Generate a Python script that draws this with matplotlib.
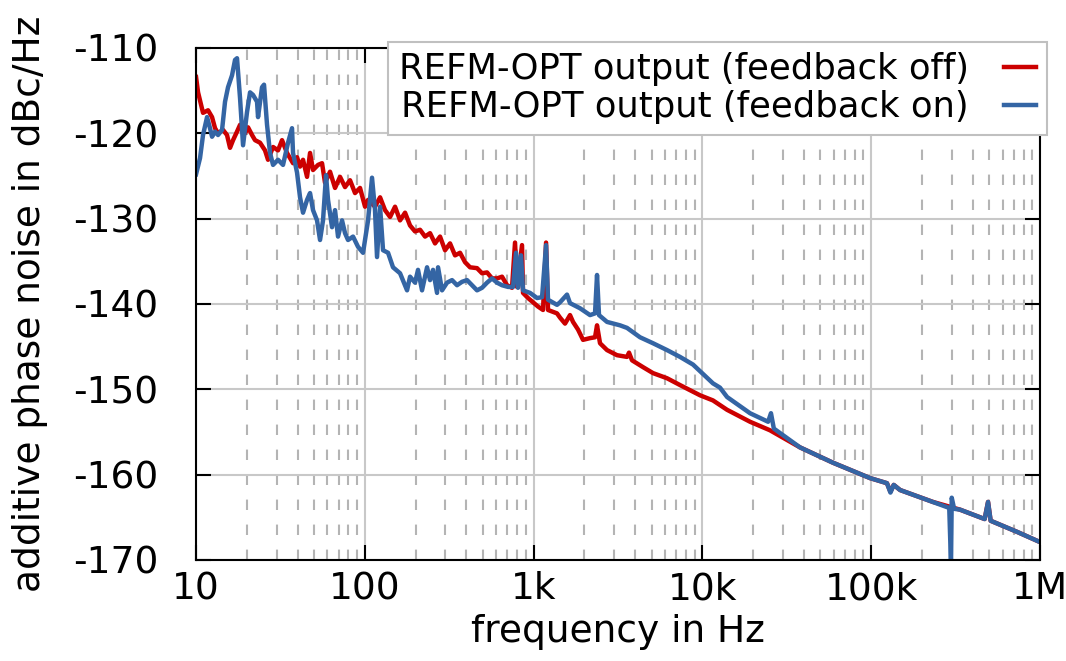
import matplotlib
matplotlib.use("Agg")
import matplotlib.pyplot as plt
from matplotlib.ticker import FixedLocator, LogLocator, NullFormatter

plt.rcParams['font.family'] = ['DejaVu Sans']
plt.rcParams['axes.unicode_minus'] = False

# feedback off (red)
off_f = [10, 10.28, 11.0, 11.78, 12.44, 12.96, 13.5, 14.45, 15.26, 15.9, 16.57, 17.49, 18.23,
         19.51, 20.33, 21.47, 22.36, 23.94, 25.63, 26.7, 28.59, 30.6, 32.32, 34.6, 37.55, 39.66,
         41.32, 43.04, 45.46, 47.36, 49.33, 52.82, 55.78, 58.11, 62.21, 66.6, 71.3, 76.33,
         81.72, 87.49, 93.67, 100.3, 104.5, 114.9, 123.1, 131.7, 141.1, 151.0, 161.7, 173.1,
         185.3, 198.4, 212.4, 227.4, 243.4, 260.6, 279.0, 298.7, 319.7, 342.3, 366.5, 392.4,
         420.1, 462.1, 494.8, 529.7, 567.0, 607.1, 649.9, 695.8, 744.9, 776, 797.4, 853.7,
         865.4, 926.5, 992, 1062, 1137, 1185, 1217, 1376, 1434, 1535, 1643, 1712, 1833, 1962,
         2159, 2311, 2375, 2474, 2722, 3120, 3576, 3674, 3828, 4448, 5098, 6171, 7368, 8446,
         9685, 11550, 14000, 19150, 25140, 37840, 59370, 98400, 124000, 130000, 136000,
         148300, 232500, 335900, 470000, 492300, 510000, 731000, 1000000]
off_db = [-113.4, -115.2, -117.6, -117.3, -118.1, -119.4, -120.0, -119.6, -120.2, -121.7,
          -120.8, -119.8, -119.0, -120.0, -119.3, -120.2, -120.8, -121.1, -122.0, -123.1,
          -121.6, -122.0, -120.8, -122.3, -123.5, -122.8, -123.9, -123.1, -125.1, -122.3,
          -124.3, -123.7, -123.5, -125.8, -124.5, -126.4, -125.1, -126.3, -125.5, -127.0,
          -126.4, -128.6, -127.8, -128.6, -127.5, -129.0, -129.8, -128.6, -130.2, -129.3,
          -130.8, -131.5, -131.3, -132.1, -131.7, -132.9, -132.1, -133.7, -132.9, -134.3,
          -134.0, -135.1, -135.7, -135.8, -136.4, -136.3, -137.0, -137.0, -136.8, -137.8,
          -138.1, -132.8, -138.0, -133.1, -138.7, -139.3, -139.8, -140.3, -140.7, -132.8,
          -140.7, -141.1, -141.6, -142.3, -141.3, -142.1, -143.0, -144.2, -144.0, -143.9,
          -142.5, -144.6, -145.4, -146.0, -146.2, -145.7, -146.6, -147.4, -148.1, -148.7,
          -149.5, -150.1, -150.7, -151.3, -152.4, -153.8, -154.8, -156.8, -158.6, -160.4,
          -161.0, -162.0, -161.2, -161.8, -163.2, -164.1, -165.2, -163.2, -165.4, -166.7,
          -167.9]

# feedback on (blue)
on_f = [10, 10.56, 11.0, 11.62, 12.1, 12.44, 12.96, 13.5, 14.26, 14.85, 15.47, 16.34, 17.02,
        17.49, 18.23, 18.99, 20.05, 20.89, 21.76, 22.98, 23.3, 24.6, 25.28, 26.34, 27.44,
        28.59, 30.6, 32.76, 35.08, 37.04, 37.55, 39.66, 41.32, 43.04, 45.46, 47.36, 49.33,
        52.1, 54.28, 56.54, 58.9, 60.53, 63.93, 66.6, 69.38, 73.27, 76.33, 79.52, 85.14,
        91.15, 97.58, 104.5, 110.3, 114.9, 118.1, 123.1, 128.2, 137.3, 146.9, 161.7, 177.9,
        185.3, 198.4, 206.6, 218.2, 233.7, 243.4, 253.6, 267.8, 271.5, 286.7, 306.9, 328.6,
        351.8, 376.6, 403.2, 431.7, 462.1, 494.8, 529.7, 567.0, 607.1, 649.9, 705.3, 755.1,
        786.6, 808.4, 842.1, 865.4, 952.2, 1048, 1122, 1185, 1217, 1376, 1434, 1577, 1643,
        1883, 2159, 2311, 2375, 2440, 2722, 3250, 3576, 4270, 5098, 6171, 7368, 8799, 9948,
        11549, 12706, 14000, 19150, 24500, 25480, 26500, 37840, 59370, 98400, 124000,
        130000, 136000, 148300, 232500, 290000, 297000, 300000, 310000, 335900, 470000,
        492300, 510000, 731000, 1000000]
on_db = [-124.8, -122.9, -120.2, -118.1, -119.4, -120.4, -119.8, -120.2, -119.6, -116.3,
         -114.6, -113.2, -111.4, -111.2, -115.9, -121.4, -117.5, -115.2, -115.5, -116.3,
         -118.1, -114.6, -114.3, -119.0, -122.3, -123.7, -123.1, -123.7, -121.1, -119.4,
         -122.3, -124.6, -127.5, -129.3, -127.8, -127.0, -129.0, -130.2, -132.5, -130.2,
         -124.9, -127.8, -131.0, -129.0, -132.1, -130.2, -131.7, -132.5, -132.1, -133.3,
         -134.0, -130.2, -125.2, -129.0, -134.5, -128.6, -133.7, -134.0, -135.7, -136.4,
         -138.4, -136.8, -137.5, -136.0, -138.4, -135.7, -137.2, -136.0, -138.7, -135.7,
         -138.4, -137.5, -137.2, -137.8, -137.4, -137.2, -137.8, -138.4, -138.1, -137.5,
         -137.0, -137.5, -137.8, -138.0, -138.0, -134.0, -138.1, -134.3, -138.4, -138.7,
         -139.3, -139.2, -133.1, -139.5, -140.1, -139.8, -138.9, -139.9, -140.5, -141.3,
         -141.1, -136.6, -141.3, -142.1, -142.5, -142.8, -143.9, -144.6, -145.4, -146.2,
         -147.1, -148.1, -149.3, -149.8, -150.9, -152.8, -153.8, -152.8, -154.6, -156.8,
         -158.6, -160.4, -161.0, -162.1, -161.2, -161.8, -163.2, -163.9, -170.5, -162.7,
         -164.0, -164.1, -165.2, -163.2, -165.4, -166.7, -167.9]

xticks = [10, 100, 1e3, 1e4, 1e5, 1e6]
xticklabels = ['10', '100', '1k', '10k', '100k', '1M']
yticks = [-170, -160, -150, -140, -130, -120, -110]

fig = plt.figure(figsize=(10.66, 6.61), dpi=100)
ax = fig.add_axes([0.1839, 0.1528, 0.7917, 0.7746])

ax.plot(off_f, off_db, color='#cc0000', lw=3.2, label='REFM-OPT output (feedback off)')
ax.plot(on_f, on_db, color='#3465a4', lw=3.2, label='REFM-OPT output (feedback on)')

ax.set_xscale('log')
ax.set_xlim(10, 1e6)
ax.set_ylim(-170, -110)
ax.xaxis.set_major_locator(FixedLocator(xticks))
ax.set_xticklabels(xticklabels)
ax.xaxis.set_minor_locator(LogLocator(base=10, subs=range(2, 10)))
ax.xaxis.set_minor_formatter(NullFormatter())
ax.set_yticks(yticks)
ax.set_yticklabels([str(v) for v in yticks])

ax.set_axisbelow(True)
ax.grid(True, which='major', color='#c8c8c8', lw=1.5, ls='-')
ax.grid(True, which='minor', axis='x', color='#b4b4b4', lw=1.5, ls=(0, (5, 7)))

ax.tick_params(which='major', direction='in', length=11, width=1.5, top=True, right=True,
               labelsize=27, color='k')
ax.tick_params(axis='y', pad=27)
ax.tick_params(axis='x', pad=8)
ax.tick_params(which='minor', length=0)
for s in ax.spines.values():
    s.set_linewidth(1.5)

ax.set_xlabel('frequency in Hz', fontsize=27)
ax.set_ylabel('additive phase noise in dBc/Hz', fontsize=27)
ax.xaxis.set_label_coords(0.5, -0.105)
ax.yaxis.set_label_coords(-0.175, 0.5)

leg = ax.legend(loc='upper right', bbox_to_anchor=(1.008, 1.012), borderaxespad=0,
                markerfirst=False, fontsize=25.5, handlelength=0.9, handletextpad=1.0,
                labelspacing=0.1, fancybox=False, framealpha=1, borderpad=0.3)
leg.get_frame().set_edgecolor('#c0c0c0')
leg.get_frame().set_linewidth(1.5)

fig.savefig('out.png', dpi=100)
